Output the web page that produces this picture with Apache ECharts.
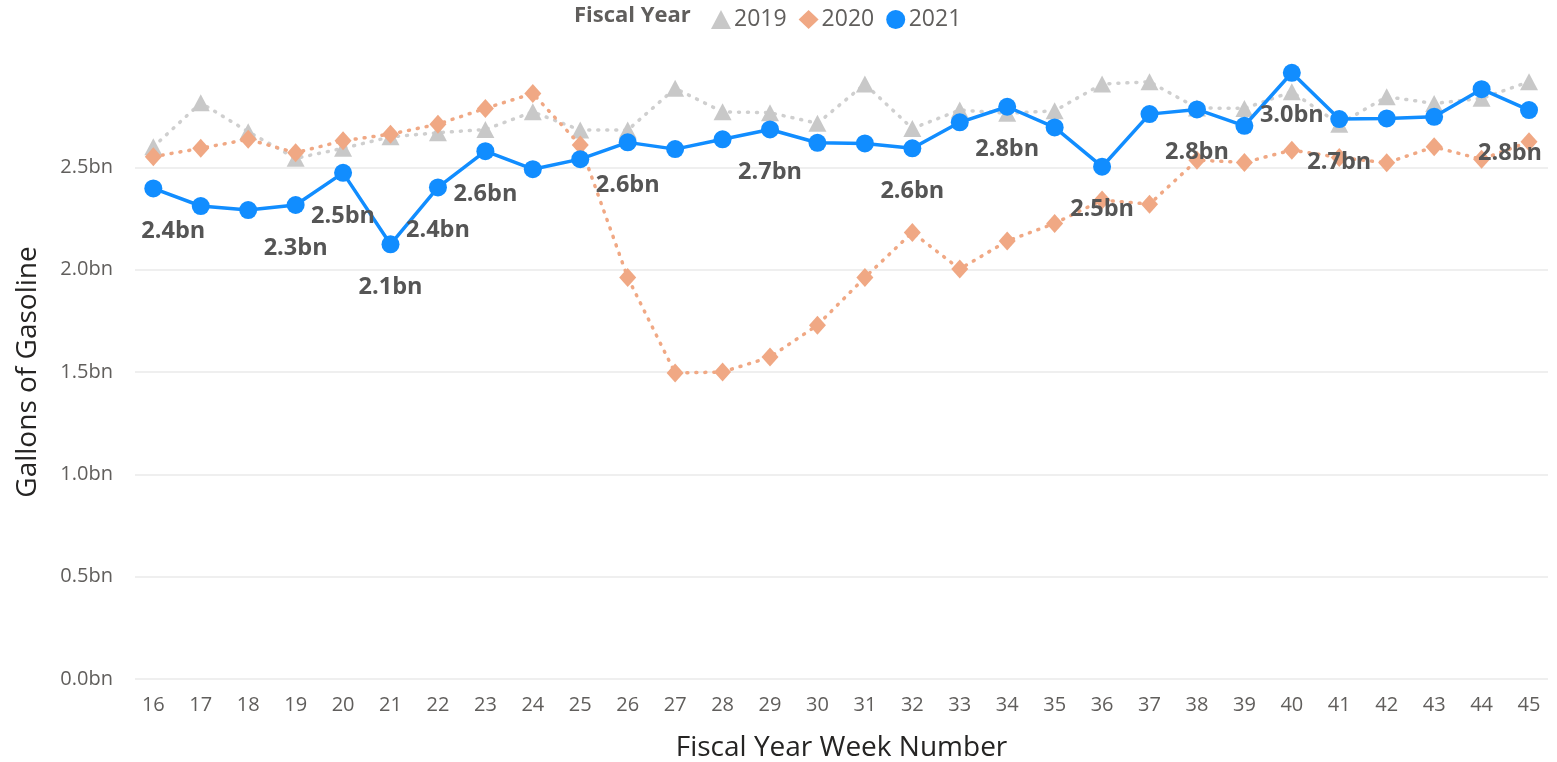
<!DOCTYPE html>
<html>
<head>
<meta charset="utf-8">
<script src="https://cdn.jsdelivr.net/npm/echarts@6/dist/echarts.min.js"></script>
<style>html,body{margin:0;padding:0;background:#fff;overflow:hidden}#c{width:1557px;height:762px}</style>
</head>
<body>
<div id="c"></div>
<script>
const weeks = [16,17,18,19,20,21,22,23,24,25,26,27,28,29,30,31,32,33,34,35,36,37,38,39,40,41,42,43,44,45];
const fy2019 = [2.60,2.815,2.674,2.544,2.593,2.649,2.669,2.685,2.771,2.682,2.682,2.886,2.771,2.767,2.715,2.907,2.690,2.780,2.764,2.776,2.907,2.918,2.790,2.788,2.869,2.711,2.845,2.812,2.837,2.918];
const fy2020 = [2.552,2.593,2.637,2.571,2.630,2.662,2.711,2.788,2.861,2.609,1.962,1.495,1.500,1.573,1.729,1.962,2.182,2.003,2.140,2.226,2.340,2.320,2.535,2.524,2.584,2.548,2.522,2.600,2.539,2.625];
const fy2021 = [2.397,2.311,2.291,2.316,2.473,2.124,2.402,2.579,2.491,2.540,2.622,2.589,2.637,2.685,2.620,2.617,2.593,2.720,2.796,2.695,2.503,2.760,2.783,2.703,2.962,2.736,2.739,2.747,2.882,2.780];
const labelledWeeks2021 = [16,19,20,21,22,23,26,29,32,34,36,38,40,41,45];
const yTicks = [0,0.5,1.0,1.5,2.0,2.5];
const seriesNames = ['2019','2020','2021'];

const FONT = "'Open Sans', 'Noto Sans', sans-serif";
const fmtBn = v => v.toFixed(1) + 'bn';
const labelShiftX = {16: 20, 45: -19};

function pairs(arr){ return weeks.map((w,i)=>[w, arr[i]]); }

const data2021 = weeks.map((w,i)=>{
  const item = {value:[w, fy2021[i]]};
  if (labelledWeeks2021.includes(w)) item.label = {show:true};
  return item;
});

const chart = echarts.init(document.getElementById('c'), null, {renderer:'canvas'});
chart.setOption({
  animation:false,
  backgroundColor:'#ffffff',
  title:{
    text:'Fiscal Year', left:569, top:0,
    textStyle:{fontFamily:FONT, fontSize:22, fontWeight:'bold', color:'#605E5C'}
  },
  legend:{
    left:706, top:3, itemGap:12, itemWidth:20, itemHeight:19,
    textStyle:{fontFamily:FONT, fontSize:23, color:'#605E5C', padding:[0,0,0,-2]},
    data:[
      {name:seriesNames[0], icon:'triangle'},
      {name:seriesNames[1], icon:'diamond'},
      {name:seriesNames[2], icon:'circle'}
    ]
  },
  grid:{left:135, right:9, top:65, bottom:83, containLabel:false, outerBoundsMode:'none'},
  xAxis:{
    type:'value', min:15.614, max:45.40,
    name:'Fiscal Year Week Number', nameLocation:'middle', nameGap:55,
    nameTextStyle:{fontFamily:FONT, fontSize:28, color:'#252423'},
    axisLine:{show:false}, axisTick:{show:false}, splitLine:{show:false},
    axisLabel:{customValues:weeks, fontFamily:FONT, fontSize:20, color:'#605E5C', margin:16,
      formatter: v => String(Math.round(v))}
  },
  yAxis:{
    type:'value', min:0, max:3.0, interval:0.5,
    name:'Gallons of Gasoline', nameLocation:'middle', nameGap:93,
    nameTextStyle:{fontFamily:FONT, fontSize:28, color:'#252423'},
    axisLine:{show:false}, axisTick:{show:false},
    splitLine:{show:true, showMaxLine:false, lineStyle:{color:'#EAEAEA', width:1.5}},
    axisLabel:{customValues:yTicks, fontFamily:FONT, fontSize:20, color:'#605E5C', margin:22, formatter: fmtBn}
  },
  series:[
    {
      name:seriesNames[0], type:'line', data:pairs(fy2019),
      symbol:'triangle', symbolSize:[18,17], color:'#C8C8C8',
      lineStyle:{color:'#CFCFCF', width:3.5, type:[1,8], cap:'round'},
      itemStyle:{color:'#C8C8C8'}, z:2
    },
    {
      name:seriesNames[1], type:'line', data:pairs(fy2020),
      symbol:'diamond', symbolSize:[17,19], color:'#F0A884',
      lineStyle:{color:'#F0A884', width:3.5, type:[1,8], cap:'round'},
      itemStyle:{color:'#F0A884'}, z:3
    },
    {
      name:seriesNames[2], type:'line', data:data2021,
      symbol:'circle', symbolSize:18, color:'#118DFF',
      lineStyle:{color:'#118DFF', width:3.5},
      itemStyle:{color:'#118DFF'}, z:4,
      label:{show:false, position:'bottom', distance:22,
        fontFamily:FONT, fontSize:23.5, fontWeight:'bold', color:'#555555',
        formatter: p => fmtBn(p.value[1])},
      labelLayout: p => ({dx: labelShiftX[weeks[p.dataIndex]] || 0, hideOverlap:false})
    }
  ]
});
</script>
</body>
</html>
